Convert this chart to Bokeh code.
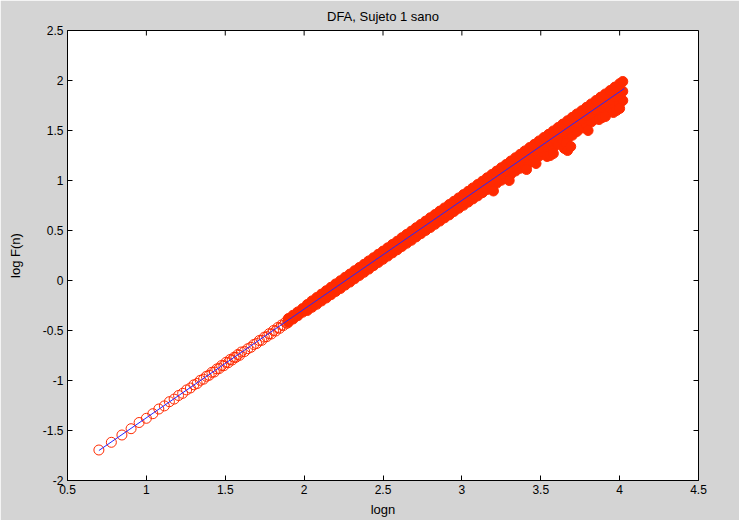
import math
from bokeh.plotting import figure
from bokeh.models import FixedTicker
from bokeh.embed import file_html
from bokeh.resources import INLINE

# ---------------- data ----------------
title_text = "DFA, Sujeto 1 sano"
x_label = "logn"
y_label = "log F(n)"

x_lim = (0.5, 4.5)
y_lim = (-2.0, 2.5)
x_ticks = [0.5, 1.0, 1.5, 2.0, 2.5, 3.0, 3.5, 4.0, 4.5]
x_tick_labels = ["0.5", "1", "1.5", "2", "2.5", "3", "3.5", "4", "4.5"]
y_ticks = [-2.0, -1.5, -1.0, -0.5, 0.0, 0.5, 1.0, 1.5, 2.0, 2.5]
y_tick_labels = ["-2", "-1.5", "-1", "-0.5", "0", "0.5", "1", "1.5", "2", "2.5"]

# individual (distinguishable) points, small window sizes
x_sparse = [0.699, 0.778, 0.845, 0.903, 0.954, 1.000, 1.041, 1.079, 1.114, 1.146,
            1.176, 1.204, 1.230, 1.255, 1.279, 1.301, 1.322, 1.342, 1.362, 1.380,
            1.398, 1.415, 1.431, 1.447, 1.462, 1.477, 1.491, 1.505, 1.519, 1.531,
            1.544, 1.556, 1.568, 1.580, 1.591, 1.602, 1.623, 1.643, 1.663, 1.681,
            1.699, 1.716, 1.732, 1.748, 1.763, 1.778, 1.792, 1.806, 1.820, 1.833,
            1.845, 1.857, 1.869, 1.881, 1.892, 1.903]
y_sparse = [-1.695, -1.618, -1.545, -1.482, -1.420, -1.378, -1.332, -1.285, -1.254, -1.212,
            -1.186, -1.150, -1.128, -1.094, -1.075, -1.043, -1.030, -0.998, -0.987, -0.958,
            -0.948, -0.918, -0.915, -0.884, -0.880, -0.850, -0.852, -0.818, -0.822, -0.790,
            -0.795, -0.768, -0.768, -0.740, -0.748, -0.715, -0.710, -0.682, -0.668, -0.640,
            -0.630, -0.600, -0.598, -0.566, -0.562, -0.532, -0.535, -0.500, -0.505, -0.470,
            -0.478, -0.445, -0.450, -0.418, -0.428, -0.394]

# dense part of the cloud: upper, middle and lower points at each position
x_dense = [1.90, 1.93, 1.96, 1.99, 2.02, 2.05, 2.08, 2.11, 2.14, 2.17,
           2.20, 2.23, 2.26, 2.29, 2.32, 2.35, 2.38, 2.41, 2.44, 2.47,
           2.50, 2.53, 2.56, 2.59, 2.62, 2.65, 2.68, 2.71, 2.74, 2.77,
           2.80, 2.83, 2.86, 2.89, 2.92, 2.95, 2.98, 3.01, 3.04, 3.07,
           3.10, 3.13, 3.16, 3.19, 3.22, 3.25, 3.28, 3.31, 3.34, 3.37,
           3.40, 3.43, 3.46, 3.49, 3.52, 3.55, 3.58, 3.61, 3.64, 3.67,
           3.70, 3.73, 3.76, 3.79, 3.82, 3.85, 3.88, 3.91, 3.94, 3.97,
           4.00, 4.02]
y_dense_hi = [-0.380, -0.347, -0.314, -0.281, -0.240, -0.204, -0.170, -0.136, -0.102, -0.068,
              -0.034, -0.002, 0.032, 0.064, 0.098, 0.130, 0.162, 0.196, 0.228, 0.262,
              0.294, 0.327, 0.361, 0.393, 0.428, 0.461, 0.494, 0.528, 0.561, 0.594,
              0.628, 0.660, 0.694, 0.726, 0.760, 0.792, 0.826, 0.859, 0.892, 0.926,
              0.960, 0.993, 1.027, 1.060, 1.094, 1.128, 1.160, 1.195, 1.228, 1.262,
              1.296, 1.330, 1.362, 1.396, 1.430, 1.462, 1.496, 1.530, 1.564, 1.598,
              1.632, 1.666, 1.698, 1.732, 1.766, 1.800, 1.834, 1.866, 1.900, 1.934,
              1.968, 1.990]
y_dense_mid = [-0.401, -0.368, -0.334, -0.300, -0.268, -0.235, -0.203, -0.170, -0.137, -0.104,
               -0.072, -0.040, -0.006, 0.026, 0.059, 0.092, 0.124, 0.157, 0.189, 0.222,
               0.255, 0.287, 0.320, 0.352, 0.385, 0.417, 0.450, 0.483, 0.515, 0.548,
               0.580, 0.612, 0.645, 0.677, 0.710, 0.742, 0.775, 0.808, 0.840, 0.872,
               0.905, 0.937, 0.970, 1.002, 1.034, 1.066, 1.098, 1.130, 1.163, 1.195,
               1.227, 1.259, 1.292, 1.324, 1.356, 1.388, 1.420, 1.452, 1.484, 1.516,
               1.548, 1.580, 1.612, 1.645, 1.676, 1.708, 1.740, 1.772, 1.805, 1.838,
               1.870, 1.892]
y_dense_lo = [-0.418, -0.385, -0.352, -0.318, -0.300, -0.268, -0.238, -0.205, -0.175, -0.142,
              -0.110, -0.080, -0.046, -0.016, 0.017, 0.050, 0.082, 0.114, 0.148, 0.180,
              0.212, 0.244, 0.276, 0.307, 0.340, 0.372, 0.402, 0.436, 0.468, 0.500,
              0.530, 0.562, 0.594, 0.626, 0.656, 0.690, 0.722, 0.752, 0.784, 0.816,
              0.846, 0.878, 0.910, 0.940, 0.972, 1.002, 1.032, 1.062, 1.095, 1.122,
              1.150, 1.180, 1.215, 1.245, 1.272, 1.300, 1.330, 1.362, 1.390, 1.420,
              1.452, 1.490, 1.525, 1.555, 1.585, 1.615, 1.640, 1.672, 1.710, 1.740,
              1.770, 1.800]

# isolated low excursions at large window sizes
x_dips = [3.20, 3.30, 3.41, 3.47, 3.54, 3.56, 3.58, 3.65, 3.66, 3.67, 3.69,
          3.80, 3.87, 3.89, 3.91, 3.96, 3.98, 4.00]
y_dips = [0.895, 1.000, 1.110, 1.170, 1.240, 1.250, 1.270, 1.320, 1.370, 1.300, 1.340,
          1.500, 1.610, 1.630, 1.640, 1.680, 1.700, 1.720]

# least-squares fit line
fit_x = [0.699, 4.03]
fit_y = [-1.70, 1.92]

# ---------------- styling ----------------
RED = "#ff2a00"
BLUE = "#2626ff"
GRAY = "#d4d4d4"
FONT = "Liberation Sans"

p = figure(width=739, height=520,
           x_range=x_lim, y_range=y_lim,
           output_backend="svg", toolbar_location=None,
           min_border_left=67, min_border_right=41,
           min_border_top=30, min_border_bottom=40,
           background_fill_color="white", border_fill_color=GRAY,
           outline_line_color="black", outline_line_width=1,
           title=title_text)

p.title.align = "center"
p.title.vertical_align = "middle"
p.title.text_font = FONT
p.title.text_font_size = "13px"
p.title.text_font_style = "normal"
p.title.text_color = "black"
p.title.standoff = 12

p.xgrid.visible = False
p.ygrid.visible = False

def style_axis(ax, ticks, labels):
    ax.ticker = FixedTicker(ticks=ticks)
    ax.major_tick_in = 5
    ax.major_tick_out = 0
    ax.minor_tick_line_color = None
    ax.major_tick_line_color = "black"
    ax.axis_line_color = "black"
    ax.major_label_overrides = {t: s for t, s in zip(ticks, labels)}
    ax.major_label_text_font = FONT
    ax.major_label_text_font_size = "12px"
    ax.major_label_text_color = "black"
    ax.major_label_standoff = 4
    ax.axis_label_text_font = FONT
    ax.axis_label_text_font_size = "13px"
    ax.axis_label_text_font_style = "normal"
    ax.axis_label_text_color = "black"

style_axis(p.xaxis[0], x_ticks, x_tick_labels)
style_axis(p.yaxis[0], y_ticks, y_tick_labels)
p.xaxis[0].axis_label = x_label
p.yaxis[0].axis_label = y_label
p.xaxis[0].axis_label_standoff = 5
p.yaxis[0].axis_label_standoff = 17

# inward ticks on the top and right edges of the box
p.ray(x=x_ticks, y=[y_lim[1]] * len(x_ticks), length=5, length_units="screen",
      angle=-math.pi / 2, line_color="black", line_width=1)
p.ray(x=[x_lim[1]] * len(y_ticks), y=y_ticks, length=5, length_units="screen",
      angle=math.pi, line_color="black", line_width=1)

# ---------------- glyphs ----------------
p.scatter(x_sparse, y_sparse, marker="circle", size=10,
          fill_color=None, line_color=RED, line_width=1)
for ys in (y_dense_lo, y_dense_mid, y_dense_hi):
    p.scatter(x_dense, ys, marker="circle", size=10,
              fill_color=RED, line_color=RED, line_width=1)
p.scatter(x_dips, y_dips, marker="circle", size=10,
          fill_color=RED, line_color=RED, line_width=1)
p.line(fit_x, fit_y, line_color=BLUE, line_width=1)

open("out.html", "w").write(file_html(p, INLINE))
